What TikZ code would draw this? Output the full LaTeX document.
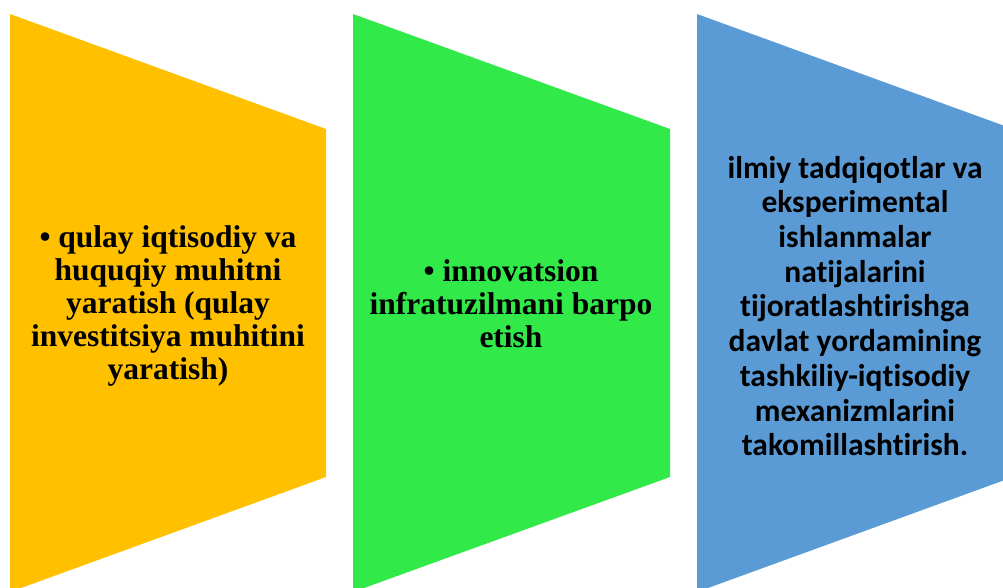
\documentclass[tikz,border=0pt]{standalone}
\usepackage{fontspec}
\setmainfont{Liberation Serif}
\newfontfamily\carlito[Ligatures=NoCommon]{Carlito}
\usetikzlibrary{positioning}
\definecolor{amber}{RGB}{255,192,0}
\definecolor{screamgreen}{RGB}{50,233,74}
\definecolor{bluegray}{RGB}{91,155,213}

\begin{document}
\begin{tikzpicture}[x=1pt,y=-1pt,
    txt/.style={align=center, inner sep=0pt, font=\fontsize{31.5}{33}\selectfont\bfseries},
    ctxt/.style={align=center, inner sep=0pt, font=\carlito\fontsize{31.5}{34.7}\selectfont\bfseries}]
\useasboundingbox (0,0) rectangle (1003,587);
\clip (0,0) rectangle (1003,587);
            % 
            \fill[amber] (10,14) -- (326,129) -- (326,477) -- (10,592) -- cycle;
            \fill[screamgreen] (353,14) -- (670,129) -- (670,477) -- (353,592) -- cycle;
            \fill[bluegray] (697,14) -- (1013,129) -- (1013,477) -- (697,592) -- cycle;

            % 
            \node[txt] (t1) at (168,306) {• qulay iqtisodiy va\\huquqiy muhitni\\yaratish (qulay\\investitsiya muhitini\\yaratish)};
            \node[txt] (t2) at (511,304) {• innovatsion\\infratuzilmani barpo\\etish};
            \node[ctxt] (t3) at (855,306) {ilmiy tadqiqotlar va\\eksperimental\\ishlanmalar\\natijalarini\\tijoratlashtirishga\\davlat yordamining\\tashkiliy-iqtisodiy\\mexanizmlarini\\takomillashtirish.};
\end{tikzpicture}
\end{document}
